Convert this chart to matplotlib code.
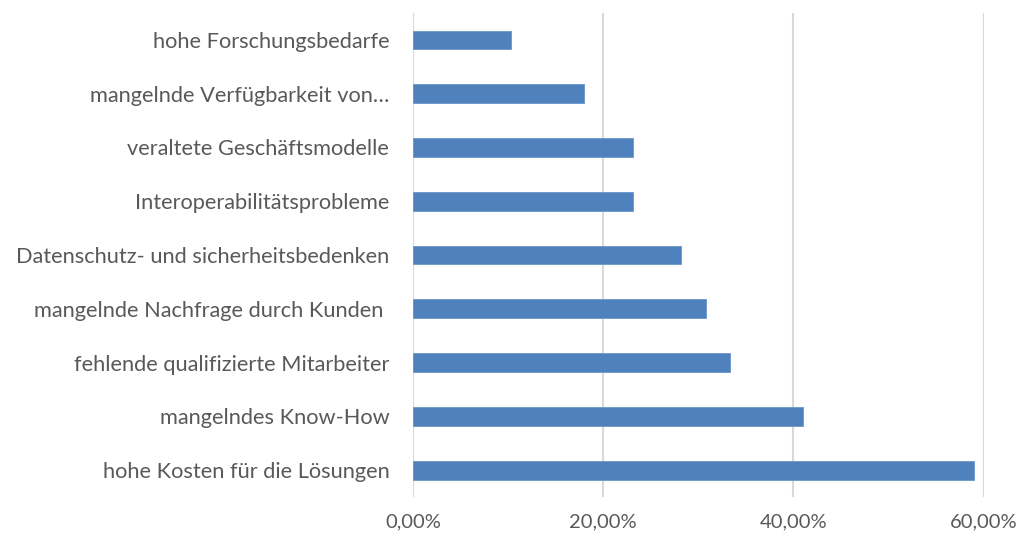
import matplotlib
matplotlib.use("Agg")
import matplotlib.pyplot as plt
from matplotlib.ticker import FuncFormatter

# Kategorien von unten nach oben
categories = [
    "hohe Kosten für die Lösungen",
    "mangelndes Know-How",
    "fehlende qualifizierte Mitarbeiter",
    "mangelnde Nachfrage durch Kunden ",
    "Datenschutz- und sicherheitsbedenken",
    "Interoperabilitätsprobleme",
    "veraltete Geschäftsmodelle",
    "mangelnde Verfügbarkeit von…",
    "hohe Forschungsbedarfe",
]
shares = [58.97, 41.03, 33.33, 30.77, 28.21, 23.08, 23.08, 17.95, 10.26]
x_ticks = [0, 20, 40, 60]

plt.rcParams["font.family"] = ["Lato", "DejaVu Sans"]

fig = plt.figure(figsize=(10.23, 5.43), dpi=100)
ax = fig.add_axes([0.4037, 0.0847, 0.9616 - 0.4037, 0.976 - 0.0847])

ax.barh(range(len(categories)), shares, height=0.35, color="#4F81BD",
        edgecolor="#6A95CC", linewidth=0.6, zorder=3)

ax.set_xlim(0, 60)
ax.set_ylim(-0.5, len(categories) - 0.5)
ax.set_xticks(x_ticks)
ax.xaxis.set_major_formatter(FuncFormatter(lambda v, p: f"{v:.2f}%".replace(".", ",")))
ax.set_yticks(range(len(categories)))
ax.set_yticklabels(categories)

ax.grid(axis="x", color="#D9D9D9", linewidth=1.5, zorder=0)
for s in ax.spines.values():
    s.set_visible(False)
ax.tick_params(axis="both", length=0, labelcolor="#595959")
ax.tick_params(axis="y", pad=17, labelsize=15.7)
ax.tick_params(axis="x", pad=12, labelsize=14.5)

fig.savefig("out.png", dpi=100)
